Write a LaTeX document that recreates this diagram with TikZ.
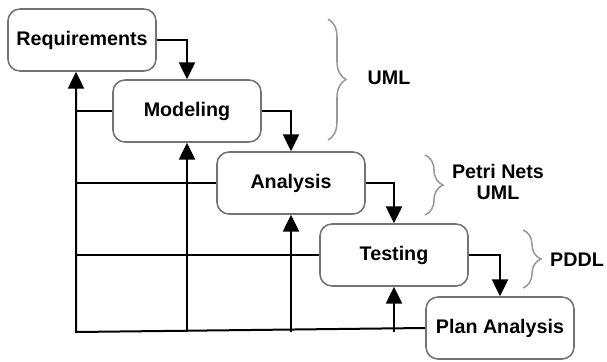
\documentclass[tikz,border=0pt]{standalone}
\usepackage{fontspec}
\setmainfont{Liberation Sans}
\usetikzlibrary{arrows.meta,decorations.pathreplacing}
\definecolor{boxgray}{gray}{0.45}
\definecolor{bracegray}{gray}{0.6}
\tikzset{
	stage/.style={draw=boxgray, line width=1.1pt, rounded corners=0.3cm, fill=white,
		minimum width=3.7cm, minimum height=1.55cm, inner sep=0pt,
		font=\fontsize{14}{17}\selectfont\bfseries},
	flow/.style={line width=0.05cm, -{Triangle[length=0.42cm, width=0.4cm]}},
	back/.style={line width=0.05cm},
	curly/.style={bracegray, line width=1.1pt, decorate, decoration={brace, amplitude=0.45cm}},
	tag/.style={font=\fontsize{14}{17}\selectfont\bfseries, align=center}
}
\begin{document}
\begin{tikzpicture}[x=0.025cm, y=-0.025cm]
	\useasboundingbox (0,0) rectangle (607,362);
	
	% feedback lines
	\coordinate (bus) at (76,332);
	
	\node[stage] (req)  at (82,40)   {Requirements};
	\node[stage] (mod)  at (187,111) {Modeling};
	\node[stage] (ana)  at (291,183) {Analysis};
	\node[stage] (test) at (394,255) {Testing};
	\node[stage] (plan) at (500,328) {Plan Analysis};
	
	\draw[flow] (req.east)  -| (mod.north);
	\draw[flow] (mod.east)  -| (ana.north);
	\draw[flow] (ana.east)  -| (test.north);
	\draw[flow] (test.east) -| (plan.north);
	
	\draw[flow] (plan.west) -- (bus) -- (bus |- req.south);
	\draw[flow] (mod.south |- bus)  -- (mod.south);
	\draw[flow] (ana.south |- bus)  -- (ana.south);
	\draw[flow] (test.south |- bus) -- (test.south);
	\draw[back] (mod.west)  -- (mod.west -| bus);
	\draw[back] (ana.west)  -- (ana.west -| bus);
	\draw[back] (test.west) -- (test.west -| bus);
	
	% notations
	\draw[curly] (328,19) -- (328,140);
	\node[tag] (uml) at (389,78) {UML};
	\draw[curly] (425,155) -- (425,215);
	\node[tag] (petri) at (498,182) {Petri Nets\\[-2pt]UML};
	\draw[curly] (523,230) -- (523,288);
	\node[tag] (pddl) at (577,260) {PDDL};
\end{tikzpicture}
\end{document}
